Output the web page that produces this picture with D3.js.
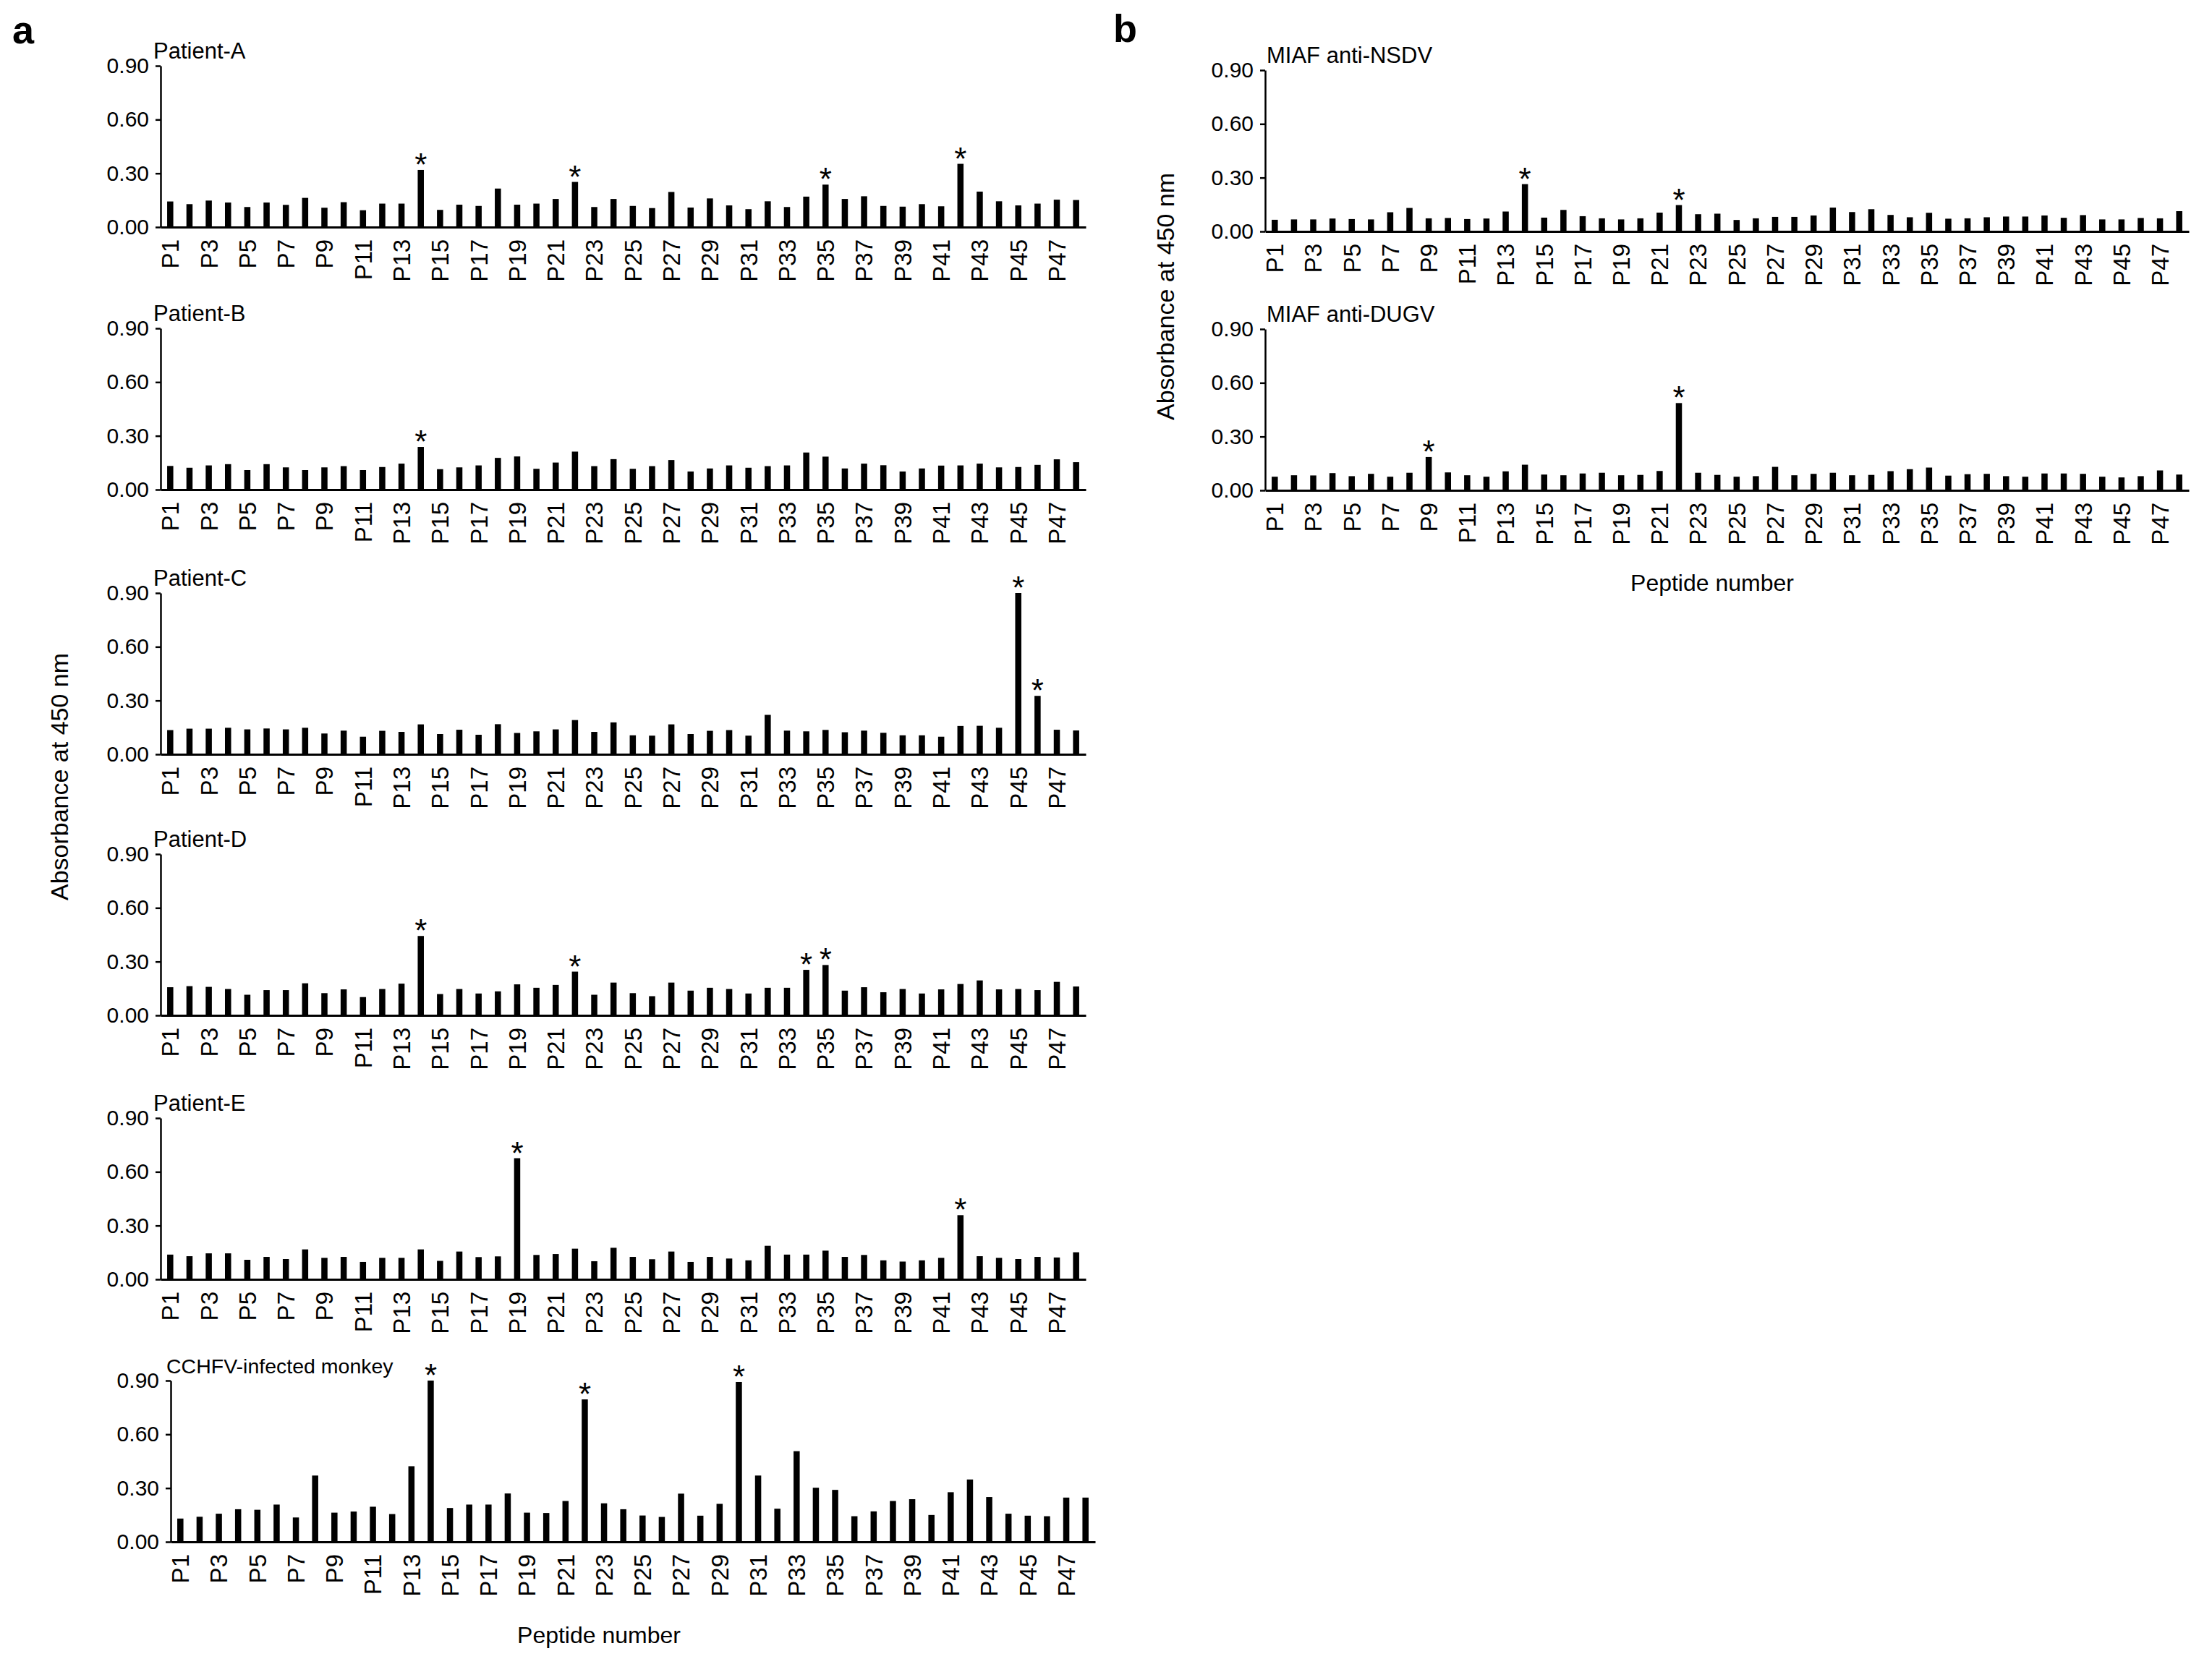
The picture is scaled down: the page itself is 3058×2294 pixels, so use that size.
<!DOCTYPE html>
<html>
<head>
<meta charset="utf-8">
<script src="https://cdn.jsdelivr.net/npm/d3@7"></script>
<style>
  body { margin: 0; background: #fff; }
  text { font-family: "Liberation Sans", Arial, sans-serif; fill: #000; }
</style>
</head>
<body>
<div id="figure"></div>
<script>
// peptide categories P1..P48, only odd ones get a label
var peptides = d3.range(1, 49).map(function(i){ return "P" + i; });
var peptideLabels = peptides.filter(function(d, i){ return i % 2 == 0; });
var yTicks = [0, 0.30, 0.60, 0.90];

// absorbance at 450 nm
var patientA = [0.143,0.128,0.148,0.137,0.112,0.137,0.124,0.163,0.108,0.139,
                0.094,0.131,0.131,0.319,0.096,0.125,0.118,0.215,0.125,0.131,
                0.157,0.252,0.112,0.157,0.118,0.106,0.196,0.109,0.160,0.121,
                0.100,0.144,0.112,0.170,0.237,0.157,0.172,0.118,0.114,0.128,
                0.116,0.353,0.198,0.144,0.121,0.131,0.153,0.151];
var patientB = [0.132,0.122,0.135,0.142,0.109,0.142,0.124,0.109,0.124,0.131,
                0.109,0.126,0.145,0.238,0.114,0.124,0.135,0.177,0.185,0.116,
                0.151,0.212,0.131,0.170,0.116,0.131,0.165,0.101,0.118,0.135,
                0.122,0.131,0.135,0.207,0.184,0.118,0.145,0.136,0.101,0.118,
                0.134,0.135,0.145,0.124,0.126,0.138,0.169,0.153];
var patientC = [0.135,0.143,0.143,0.148,0.139,0.144,0.139,0.148,0.116,0.132,
                0.098,0.131,0.125,0.167,0.113,0.137,0.109,0.168,0.119,0.128,
                0.139,0.191,0.125,0.178,0.106,0.104,0.167,0.113,0.131,0.135,
                0.104,0.220,0.132,0.128,0.136,0.123,0.132,0.120,0.106,0.106,
                0.098,0.158,0.159,0.148,0.900,0.326,0.137,0.133];
var patientD = [0.157,0.163,0.159,0.147,0.115,0.141,0.141,0.179,0.124,0.145,
                0.102,0.147,0.177,0.443,0.119,0.147,0.122,0.134,0.173,0.154,
                0.170,0.244,0.115,0.183,0.124,0.107,0.183,0.138,0.154,0.147,
                0.122,0.154,0.154,0.254,0.281,0.138,0.157,0.129,0.147,0.122,
                0.145,0.175,0.195,0.145,0.147,0.141,0.187,0.161];
var patientE = [0.138,0.129,0.145,0.145,0.109,0.125,0.113,0.167,0.120,0.125,
                0.097,0.120,0.120,0.167,0.103,0.155,0.124,0.128,0.676,0.136,
                0.141,0.171,0.101,0.176,0.125,0.112,0.155,0.097,0.125,0.116,
                0.106,0.187,0.138,0.138,0.160,0.125,0.136,0.106,0.099,0.106,
                0.120,0.358,0.129,0.120,0.113,0.125,0.122,0.151];
var monkey   = [0.130,0.140,0.157,0.182,0.179,0.208,0.136,0.370,0.163,0.169,
                0.196,0.155,0.422,0.900,0.189,0.208,0.208,0.270,0.163,0.161,
                0.228,0.795,0.215,0.182,0.147,0.139,0.269,0.146,0.212,0.892,
                0.370,0.185,0.506,0.302,0.290,0.143,0.170,0.228,0.238,0.150,
                0.277,0.348,0.250,0.157,0.146,0.143,0.247,0.247];
var miafNSDV = [0.065,0.067,0.067,0.072,0.069,0.067,0.107,0.131,0.073,0.075,
                0.069,0.072,0.111,0.264,0.077,0.120,0.085,0.073,0.067,0.073,
                0.105,0.147,0.096,0.099,0.064,0.073,0.081,0.081,0.089,0.133,
                0.108,0.124,0.092,0.079,0.104,0.071,0.073,0.079,0.083,0.083,
                0.089,0.076,0.091,0.067,0.067,0.075,0.073,0.113];
var miafDUGV = [0.076,0.084,0.083,0.096,0.079,0.092,0.076,0.098,0.186,0.100,
                0.084,0.076,0.106,0.143,0.088,0.084,0.094,0.098,0.084,0.086,
                0.108,0.487,0.098,0.086,0.076,0.079,0.131,0.084,0.092,0.098,
                0.084,0.086,0.107,0.118,0.127,0.082,0.090,0.092,0.079,0.076,
                0.094,0.094,0.092,0.076,0.072,0.079,0.111,0.088];

// peptides marked with an asterisk
var starsA = [14, 22, 35, 42];
var starsB = [14];
var starsC = [45, 46];
var starsD = [14, 22, 34, 35];
var starsE = [19, 42];
var starsMonkey = [14, 22, 30];
var starsNSDV = [14, 22];
var starsDUGV = [9, 22];

var W = 3058, H = 2294;
var plotH = 223;
var FONT = '"Liberation Sans", Arial, sans-serif';

var panels = [
  {title: "Patient-A", values: patientA, stars: starsA, x0: 222, x1: 1501, top: 91,   tx: -10, ts: 31},
  {title: "Patient-B", values: patientB, stars: starsB, x0: 222, x1: 1501, top: 454,  tx: -10, ts: 31},
  {title: "Patient-C", values: patientC, stars: starsC, x0: 222, x1: 1501, top: 820,  tx: -10, ts: 31},
  {title: "Patient-D", values: patientD, stars: starsD, x0: 222, x1: 1501, top: 1181, tx: -10, ts: 31},
  {title: "Patient-E", values: patientE, stars: starsE, x0: 222, x1: 1501, top: 1546, tx: -10, ts: 31},
  {title: "CCHFV-infected monkey", values: monkey, stars: starsMonkey, x0: 236, x1: 1514, top: 1909, tx: -6, ts: 28.5},
  {title: "MIAF anti-NSDV", values: miafNSDV, stars: starsNSDV, x0: 1749, x1: 3026, top: 97,  tx: 2, ts: 31},
  {title: "MIAF anti-DUGV", values: miafDUGV, stars: starsDUGV, x0: 1749, x1: 3026, top: 455, tx: 2, ts: 31}
];

var svg = d3.select("#figure").append("svg")
  .attr("width", W)
  .attr("height", H);
svg.append("rect").attr("width", W).attr("height", H).attr("fill", "#fff");

function drawPanel(p){
  var x = d3.scaleBand()
    .domain(peptides)
    .range([p.x0, p.x1])
    .paddingInner(0.68)
    .paddingOuter(0.34);
  var y = d3.scaleLinear()
    .domain([0, 0.9])
    .range([p.top + plotH, p.top]);

  var g = svg.append("g");

  g.selectAll("rect.bar")
    .data(p.values)
    .enter().append("rect")
    .attr("class", "bar")
    .attr("x", function(d, i){ return x(peptides[i]); })
    .attr("width", x.bandwidth())
    .attr("y", function(d){ return y(d); })
    .attr("height", function(d){ return y(0) - y(d); })
    .attr("fill", "#000");

  // x axis: baseline + rotated labels, no ticks
  var xAxis = d3.axisBottom(x).tickValues(peptideLabels).tickSize(0).tickSizeOuter(0);
  var gx = g.append("g")
    .attr("transform", "translate(0," + y(0) + ")")
    .call(xAxis);
  gx.select(".domain").attr("stroke", "#000").attr("stroke-width", 3);
  gx.selectAll("text")
    .attr("transform", "rotate(-90)")
    .attr("x", -17)
    .attr("y", 0)
    .attr("dy", "0.36em")
    .style("text-anchor", "end")
    .style("font-size", "33px")
    .style("font-family", FONT);

  // y axis
  var yAxis = d3.axisLeft(y).tickValues(yTicks).tickFormat(d3.format(".2f"))
    .tickSize(7).tickSizeOuter(0).tickPadding(9);
  var gy = g.append("g")
    .attr("transform", "translate(" + p.x0 + ",0)")
    .call(yAxis);
  gy.select(".domain").attr("stroke", "#000").attr("stroke-width", 2.5);
  gy.selectAll(".tick line").attr("stroke", "#000").attr("stroke-width", 2.5);
  gy.selectAll("text")
    .style("font-size", "30px")
    .style("font-family", FONT);

  // panel title
  g.append("text")
    .attr("x", p.x0 + p.tx)
    .attr("y", p.top - 10)
    .style("font-size", p.ts + "px")
    .text(p.title);

  // asterisks
  g.selectAll("text.star")
    .data(p.stars)
    .enter().append("text")
    .attr("class", "star")
    .attr("x", function(d){ return x("P" + d) + x.bandwidth() / 2; })
    .attr("y", function(d){ return y(p.values[d - 1]) + 8; })
    .style("text-anchor", "middle")
    .style("font-size", "44px")
    .text("*");
}

panels.forEach(drawPanel);

// panel letters
svg.append("text").attr("x", 17).attr("y", 60)
  .style("font-size", "54px").style("font-weight", "bold").text("a");
svg.append("text").attr("x", 1539).attr("y", 58)
  .style("font-size", "54px").style("font-weight", "bold").text("b");

// axis titles
svg.append("text")
  .attr("transform", "translate(94,1074) rotate(-90)")
  .style("text-anchor", "middle").style("font-size", "34px")
  .text("Absorbance at 450 nm");
svg.append("text")
  .attr("transform", "translate(1623,410) rotate(-90)")
  .style("text-anchor", "middle").style("font-size", "34px")
  .text("Absorbance at 450 nm");
svg.append("text")
  .attr("x", 828).attr("y", 2272)
  .style("text-anchor", "middle").style("font-size", "32px")
  .text("Peptide number");
svg.append("text")
  .attr("x", 2367).attr("y", 817)
  .style("text-anchor", "middle").style("font-size", "32px")
  .text("Peptide number");
</script>
</body>
</html>
